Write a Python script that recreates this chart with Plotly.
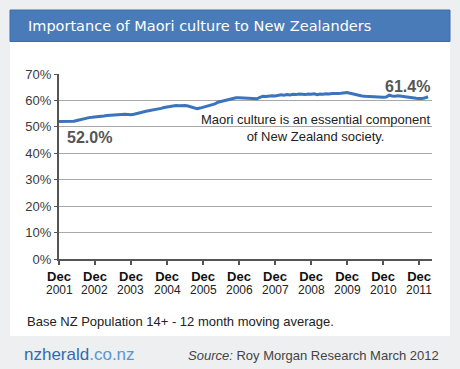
import pandas as pd
import plotly.graph_objects as go

# ---- data ----
start_month = "2001-12-01"
values = [
    52.0, 52.0, 52.0, 52.0, 52.1, 52.1,
    52.4, 52.7, 53.0, 53.3, 53.5,
    53.6, 53.7, 53.7, 53.9, 54.1, 54.3, 54.4, 54.5, 54.6,
    54.5, 54.7, 54.8, 54.7, 54.6, 54.8,
    55.0, 55.3, 55.6, 55.9, 56.1,
    56.2, 56.4, 56.7, 57.0, 57.3,
    57.5, 57.7, 58.0, 58.1, 58.0, 58.1, 58.1,
    57.9, 57.5, 57.1, 56.9,
    57.1, 57.4, 57.7, 58.0, 58.3,
    58.7, 59.3, 59.6, 60.0,
    60.2, 60.5, 60.8, 61.0,
    61.0, 60.9, 60.8, 60.9, 60.7, 60.6, 60.6,
    61.2, 61.6,
    61.5, 61.7, 61.8, 61.7, 62.0, 62.1,
    62.0, 62.2, 62.1, 62.3, 62.2, 62.4, 62.3, 62.2, 62.4,
    62.3, 62.5, 62.2, 62.4, 62.3, 62.5, 62.4, 62.6, 62.5, 62.6, 62.7, 62.8, 63.0,
    62.7, 62.4, 62.0, 61.8, 61.7, 61.6,
    61.5, 61.4, 61.3, 61.2, 61.3, 61.2, 61.3, 62.0,
    61.7, 61.6, 61.8, 61.6, 61.5,
    61.2, 61.0, 60.9, 60.8, 60.7, 60.7,
    61.0, 61.4,
]
months = pd.date_range(start_month, periods=len(values), freq="MS")

tick_dates = ["2001-12-01", "2002-12-01", "2003-12-01", "2004-12-01", "2005-12-01",
              "2006-12-01", "2007-12-01", "2008-12-01", "2009-12-01", "2010-12-01",
              "2011-12-01"]
tick_month = "Dec"
tick_years = ["2001", "2002", "2003", "2004", "2005", "2006", "2007", "2008",
              "2009", "2010", "2011"]
y_ticks = [0, 10, 20, 30, 40, 50, 60, 70]
y_ticktext = ["0%", "10%", "20%", "30%", "40%", "50%", "60%", "70%"]

title_text = "Importance of Maori culture to New Zealanders"
start_label = "52.0%"
end_label = "61.4%"
note_text = "Maori culture is an essential component<br>of New Zealand society."
base_text = "Base NZ Population 14+ - 12 month moving average."
source_text = "<i>Source:</i> Roy Morgan Research March 2012"

# ---- layout geometry (pixels) ----
W, H = 460, 369
L, R = 59, 432          # plot area x
T, B = 74, 259          # plot area y


def px(x):
    return (x - L) / (R - L)


def py(y):
    return (B - y) / (B - T)


fig = go.Figure()
fig.add_trace(go.Scatter(
    x=months, y=values, mode="lines",
    line=dict(color="#3a74bf", width=3),
    hoverinfo="skip", showlegend=False,
))

FONT = "Liberation Sans, Arial, sans-serif"

shapes = [
    # white panel
    dict(type="rect", xref="paper", yref="paper", x0=px(10), x1=px(450), y0=py(336), y1=py(10),
         fillcolor="white", line=dict(width=0), layer="below"),
    # header bar
    dict(type="rect", xref="paper", yref="paper", x0=px(10), x1=px(450), y0=py(41.5), y1=py(10),
         fillcolor="#4a7bb9", line=dict(width=1, color="#3c6dab"), layer="below"),
]

annotations = [
    dict(text=title_text, xref="paper", yref="paper", x=px(26), y=py(26), xanchor="left",
         yanchor="middle", showarrow=False,
         font=dict(family="DejaVu Sans, sans-serif", size=14.5, color="white")),
    dict(text=start_label, xref="paper", yref="paper", x=px(65), y=py(137), xanchor="left",
         yanchor="middle", showarrow=False,
         font=dict(family=FONT, size=16, color="#555555", weight="bold")),
    dict(text=end_label, xref="paper", yref="paper", x=px(432), y=py(87), xanchor="right",
         yanchor="middle", showarrow=False,
         font=dict(family=FONT, size=16, color="#555555", weight="bold")),
    dict(text=note_text, xref="paper", yref="paper", x=px(315), y=py(127.5), xanchor="center",
         yanchor="middle", showarrow=False, align="center",
         font=dict(family=FONT, size=13, color="#222222")),
    dict(text=base_text, xref="paper", yref="paper", x=px(25), y=py(321), xanchor="left",
         yanchor="middle", showarrow=False,
         font=dict(family=FONT, size=13, color="#222222")),
    dict(text="<span style='color:#2f6bb3'>nzherald</span><span style='color:#5a95d2'>.co.nz</span>",
         xref="paper", yref="paper", x=px(22), y=py(354), xanchor="left", yanchor="middle",
         showarrow=False, font=dict(family=FONT, size=17)),
    dict(text=source_text, xref="paper", yref="paper", x=px(441), y=py(355), xanchor="right",
         yanchor="middle", showarrow=False,
         font=dict(family=FONT, size=13, color="#444444")),
]

for d, yr in zip(tick_dates, tick_years):
    annotations.append(dict(text=yr, xref="x", yref="paper", x=d, y=py(290), xanchor="center",
                            yanchor="middle", showarrow=False,
                            font=dict(family=FONT, size=12, color="#222222")))

fig.update_layout(
    width=W, height=H,
    margin=dict(l=L, r=W - R, t=T, b=H - B, pad=0),
    paper_bgcolor="#eeeff1",
    plot_bgcolor="white",
    shapes=shapes,
    annotations=annotations,
    showlegend=False,
    xaxis=dict(
        type="date",
        range=["2001-12-01", "2012-04-10"],
        tickvals=tick_dates,
        ticktext=["<b>" + tick_month + "</b>"] * len(tick_dates),
        ticks="outside", ticklen=4, tickwidth=1.5, tickcolor="#555555",
        showline=True, linecolor="#555555", linewidth=2,
        showgrid=False, zeroline=False,
        tickfont=dict(family=FONT, size=13, color="#111111"),
        fixedrange=True,
    ),
    yaxis=dict(
        range=[0, 70],
        tickvals=y_ticks, ticktext=y_ticktext,
        ticks="outside", ticklen=3, tickwidth=1, tickcolor="#555555",
        showline=True, linecolor="#555555", linewidth=2,
        showgrid=True, gridcolor="#a8a8a8", gridwidth=1,
        zeroline=False,
        tickfont=dict(family=FONT, size=13, color="#3a3a3a"),
        fixedrange=True,
    ),
)

fig.write_html(
    "out.html",
    config={"displayModeBar": False},
    post_script="document.body.style.margin='0';document.body.style.overflow='hidden';",
)
